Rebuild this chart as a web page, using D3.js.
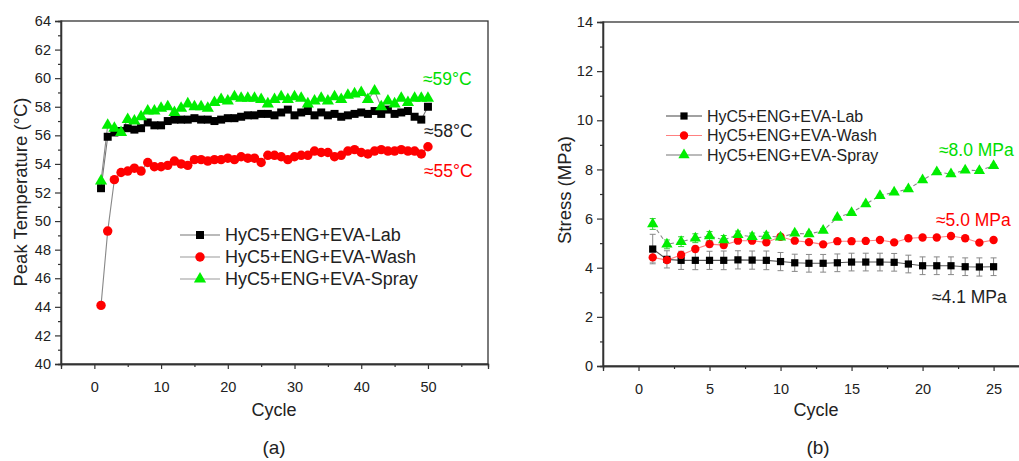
<!DOCTYPE html>
<html>
<head>
<meta charset="utf-8">
<script src="https://cdn.jsdelivr.net/npm/d3@7"></script>
<style>
  body { margin: 0; background: #fff; }
  text { font-family: Arial, "Liberation Sans", sans-serif; fill: #222; }
</style>
</head>
<body>
<div id="chart"></div>
<script>
// ---- panel (a): peak temperature, 50 cycles ----
const cyclesA = d3.range(1, 51);
const tempLab = [52.3, 55.9, 56.2, 56.3, 56.5, 56.4, 56.5, 56.9, 56.7, 56.7,
  57.0, 57.1, 57.1, 57.1, 57.2, 57.1, 57.1, 57.0, 57.1, 57.2,
  57.2, 57.3, 57.4, 57.4, 57.5, 57.5, 57.4, 57.6, 57.8, 57.4,
  57.6, 57.7, 57.4, 57.6, 57.4, 57.5, 57.3, 57.4, 57.5, 57.6,
  57.5, 57.7, 57.5, 57.8, 57.5, 57.6, 57.7, 57.3, 57.1, 58.0];
const tempWash = [44.1, 49.3, 52.9, 53.4, 53.5, 53.7, 53.5, 54.1, 53.8, 53.8,
  53.9, 54.2, 54.0, 53.9, 54.3, 54.3, 54.2, 54.3, 54.3, 54.4,
  54.3, 54.5, 54.4, 54.4, 54.1, 54.6, 54.6, 54.5, 54.3, 54.5,
  54.6, 54.6, 54.9, 54.8, 54.8, 54.5, 54.6, 54.9, 55.0, 54.8,
  54.7, 54.9, 55.0, 54.9, 54.9, 55.0, 54.9, 54.9, 54.7, 55.2];
const tempSpray = [52.8, 56.7, 56.5, 56.2, 57.1, 57.0, 57.3, 57.7, 57.7, 57.9,
  58.0, 57.6, 57.9, 58.2, 58.0, 58.0, 57.9, 58.3, 58.5, 58.4,
  58.7, 58.6, 58.6, 58.6, 58.5, 58.2, 58.5, 58.7, 58.5, 58.7,
  58.6, 58.2, 58.4, 58.6, 58.4, 58.7, 58.5, 58.8, 58.9, 59.0,
  58.5, 59.1, 58.0, 58.4, 58.2, 58.6, 58.3, 58.6, 58.6, 58.6];

// ---- panel (b): stress, 25 cycles ----
const cyclesB = d3.range(1, 26);
const stressLab = [4.76, 4.34, 4.30, 4.30, 4.30, 4.30, 4.32, 4.31, 4.30, 4.25,
  4.20, 4.18, 4.18, 4.20, 4.23, 4.23, 4.23, 4.22, 4.15, 4.08,
  4.08, 4.08, 4.04, 4.03, 4.04];
const stressLabErr = [0.6, 0.35, 0.37, 0.38, 0.37, 0.38, 0.37, 0.37, 0.38, 0.37,
  0.35, 0.36, 0.36, 0.36, 0.36, 0.36, 0.36, 0.36, 0.36, 0.36,
  0.36, 0.36, 0.36, 0.37, 0.36];
const stressWash = [4.42, 4.31, 4.52, 4.76, 4.96, 4.92, 5.10, 5.10, 5.03, 5.26,
  5.10, 5.04, 4.95, 5.08, 5.08, 5.09, 5.13, 5.03, 5.20, 5.23,
  5.23, 5.29, 5.20, 5.02, 5.13];
const stressWashErr = [0.2, 0.12, 0.12, 0.12, 0.12, 0.12, 0.1, 0.1, 0.1, 0.1,
  0.08, 0.08, 0.08, 0.08, 0.08, 0.08, 0.08, 0.08, 0.08, 0.08,
  0.08, 0.08, 0.08, 0.08, 0.08];
const stressSpray = [5.78, 4.95, 5.06, 5.20, 5.29, 5.13, 5.34, 5.26, 5.29, 5.24,
  5.40, 5.37, 5.51, 6.04, 6.24, 6.59, 6.93, 7.07, 7.20, 7.57,
  7.90, 7.81, 7.97, 7.95, 8.15];
const stressSprayErr = [0.22, 0.18, 0.2, 0.18, 0.18, 0.18, 0.15, 0.15, 0.15, 0.1,
  0.08, 0.08, 0.08, 0.05, 0.05, 0.05, 0.05, 0.05, 0.05, 0.05,
  0.05, 0.05, 0.05, 0.05, 0.05];

const seriesNames = ['HyC5+ENG+EVA-Lab', 'HyC5+ENG+EVA-Wash', 'HyC5+ENG+EVA-Spray'];
const seriesFill = ['#000000', '#ff0000', '#00ee00'];

const svg = d3.select('#chart').append('svg')
  .attr('width', 1019).attr('height', 461);

function drawPanel(cfg) {
  const g = svg.append('g');
  const x = d3.scaleLinear().domain(cfg.xDomain).range(cfg.xRange);
  const y = d3.scaleLinear().domain(cfg.yDomain).range(cfg.yRange);
  const [x0, x1] = cfg.xRange, [y0, y1] = cfg.yRange;

  // series
  cfg.series.forEach((s, i) => {
    const pts = cfg.cycles.map((c, j) => ({ c, v: s.values[j], e: s.err ? s.err[j] : 0 }));
    g.append('path')
      .datum(pts)
      .attr('fill', 'none')
      .attr('stroke', s.line)
      .attr('stroke-width', 1.1)
      .attr('stroke-dasharray', s.dash || null)
      .attr('d', d3.line().x(d => x(d.c)).y(d => y(d.v)));
    if (s.err) {
      const eb = g.append('g').attr('stroke', s.errColor).attr('stroke-width', 1);
      pts.forEach(d => {
        const ya = y(d.v + d.e), yb = y(d.v - d.e), xc = x(d.c);
        eb.append('line').attr('x1', xc).attr('x2', xc).attr('y1', ya).attr('y2', yb);
        eb.append('line').attr('x1', xc - 3).attr('x2', xc + 3).attr('y1', ya).attr('y2', ya);
        eb.append('line').attr('x1', xc - 3).attr('x2', xc + 3).attr('y1', yb).attr('y2', yb);
      });
    }
  });
  cfg.series.forEach((s, i) => {
    g.append('g').selectAll('path')
      .data(cfg.cycles.map((c, j) => ({ c, v: s.values[j] })))
      .join('path')
      .attr('transform', d => `translate(${x(d.c)},${y(d.v)})`)
      .attr('d', d3.symbol().type(cfg.symbols[i]).size(cfg.symSize[i]))
      .attr('fill', seriesFill[i]);
  });

  // frame
  g.append('rect')
    .attr('x', x0).attr('y', y1)
    .attr('width', x1 - x0).attr('height', y0 - y1)
    .attr('fill', 'none').attr('stroke', '#333').attr('stroke-width', 1.3);

  // axes
  const styleAxis = sel => {
    sel.select('.domain').attr('stroke', '#333').attr('stroke-width', 1.3);
    sel.selectAll('.tick line').attr('stroke', '#333').attr('stroke-width', 1.2);
    sel.selectAll('.tick text').attr('font-size', 14.5).style('fill', '#222');
  };
  g.append('g').attr('transform', `translate(0,${y0})`)
    .call(d3.axisBottom(x).tickValues(cfg.xMinor).tickSize(3).tickFormat(''))
    .call(styleAxis);
  g.append('g').attr('transform', `translate(0,${y0})`)
    .call(d3.axisBottom(x).tickValues(cfg.xMajor).tickSize(5).tickPadding(13))
    .call(styleAxis);
  g.append('g').attr('transform', `translate(${x0},0)`)
    .call(d3.axisLeft(y).tickValues(cfg.yMinor).tickSize(3).tickFormat(''))
    .call(styleAxis);
  g.append('g').attr('transform', `translate(${x0},0)`)
    .call(d3.axisLeft(y).tickValues(cfg.yMajor).tickSize(6).tickPadding(4))
    .call(styleAxis);

  // axis titles
  g.append('text')
    .attr('x', cfg.xTitlePos[0]).attr('y', cfg.xTitlePos[1])
    .attr('text-anchor', 'middle').attr('font-size', 18).text('Cycle');
  g.append('text')
    .attr('transform', `translate(${cfg.yTitlePos[0]},${cfg.yTitlePos[1]}) rotate(-90)`)
    .attr('text-anchor', 'middle').attr('font-size', 18.5).text(cfg.yTitle);
  g.append('text')
    .attr('x', cfg.panelPos[0]).attr('y', cfg.panelPos[1])
    .attr('text-anchor', 'middle').attr('font-size', 19).text(cfg.panel);

  // legend
  const lg = g.append('g');
  cfg.series.forEach((s, i) => {
    const ly = cfg.legend.y + i * cfg.legend.dy;
    lg.append('line')
      .attr('x1', cfg.legend.x).attr('x2', cfg.legend.x + cfg.legend.len)
      .attr('y1', ly).attr('y2', ly)
      .attr('stroke', cfg.legend.lineColors[i]).attr('stroke-width', 1.1);
    lg.append('path')
      .attr('transform', `translate(${cfg.legend.x + cfg.legend.len / 2},${ly})`)
      .attr('d', d3.symbol().type(cfg.symbols[i]).size(cfg.symSize[i]))
      .attr('fill', seriesFill[i]);
    lg.append('text')
      .attr('x', cfg.legend.x + cfg.legend.len + 5).attr('y', ly)
      .attr('dy', '0.35em').attr('font-size', cfg.legend.font)
      .text(seriesNames[i]);
  });

  // end labels
  cfg.notes.forEach(n => {
    g.append('text')
      .attr('x', n.x).attr('y', n.y).attr('dy', '0.35em')
      .attr('font-size', 17.5).style('fill', n.color).text(n.text);
  });
}

drawPanel({
  cycles: cyclesA,
  xDomain: [-5, 59], xRange: [61, 488],
  yDomain: [40, 64], yRange: [364, 21],
  xMajor: [0, 10, 20, 30, 40, 50], xMinor: [5, 15, 25, 35, 45, 55],
  yMajor: d3.range(40, 65, 2), yMinor: d3.range(41, 64, 2),
  series: [
    { values: tempLab, line: '#777' },
    { values: tempWash, line: '#888' },
    { values: tempSpray, line: '#888' }
  ],
  symbols: [d3.symbolSquare, d3.symbolCircle, d3.symbolTriangle],
  symSize: [64, 70, 64],
  yTitle: 'Peak Temperature (°C)',
  xTitlePos: [274, 416], yTitlePos: [27, 192], panel: '(a)', panelPos: [274, 454],
  legend: { x: 180, y: 235, dy: 22, len: 40, font: 18, lineColors: ['#777', '#999', '#999'] },
  notes: [
    { x: 423, y: 79, text: '≈59°C', color: '#00dd00' },
    { x: 424, y: 131, text: '≈58°C', color: '#222' },
    { x: 424, y: 171, text: '≈55°C', color: '#ff0000' }
  ]
});

drawPanel({
  cycles: cyclesB,
  xDomain: [-2.5, 27], xRange: [603, 1022],
  yDomain: [0, 14], yRange: [366, 22],
  xMajor: [0, 5, 10, 15, 20, 25], xMinor: [2.5, 7.5, 12.5, 17.5, 22.5],
  yMajor: d3.range(0, 15, 2), yMinor: d3.range(1, 14, 2),
  series: [
    { values: stressLab, err: stressLabErr, line: '#555', errColor: '#888' },
    { values: stressWash, err: stressWashErr, line: '#ff8080', errColor: '#aaa' },
    { values: stressSpray, err: stressSprayErr, line: '#888', dash: '4,3', errColor: '#33cc33' }
  ],
  symbols: [d3.symbolSquare, d3.symbolCircle, d3.symbolTriangle],
  symSize: [52, 55, 55],
  yTitle: 'Stress (MPa)',
  xTitlePos: [816, 416], yTitlePos: [571, 190], panel: '(b)', panelPos: [818, 454],
  legend: { x: 666, y: 116, dy: 19.5, len: 36, font: 16, lineColors: ['#444', '#ff8080', '#777'] },
  notes: [
    { x: 939, y: 150, text: '≈8.0 MPa', color: '#00dd00' },
    { x: 936, y: 220, text: '≈5.0 MPa', color: '#ff0000' },
    { x: 932, y: 297, text: '≈4.1 MPa', color: '#222' }
  ]
});
</script>
</body>
</html>
